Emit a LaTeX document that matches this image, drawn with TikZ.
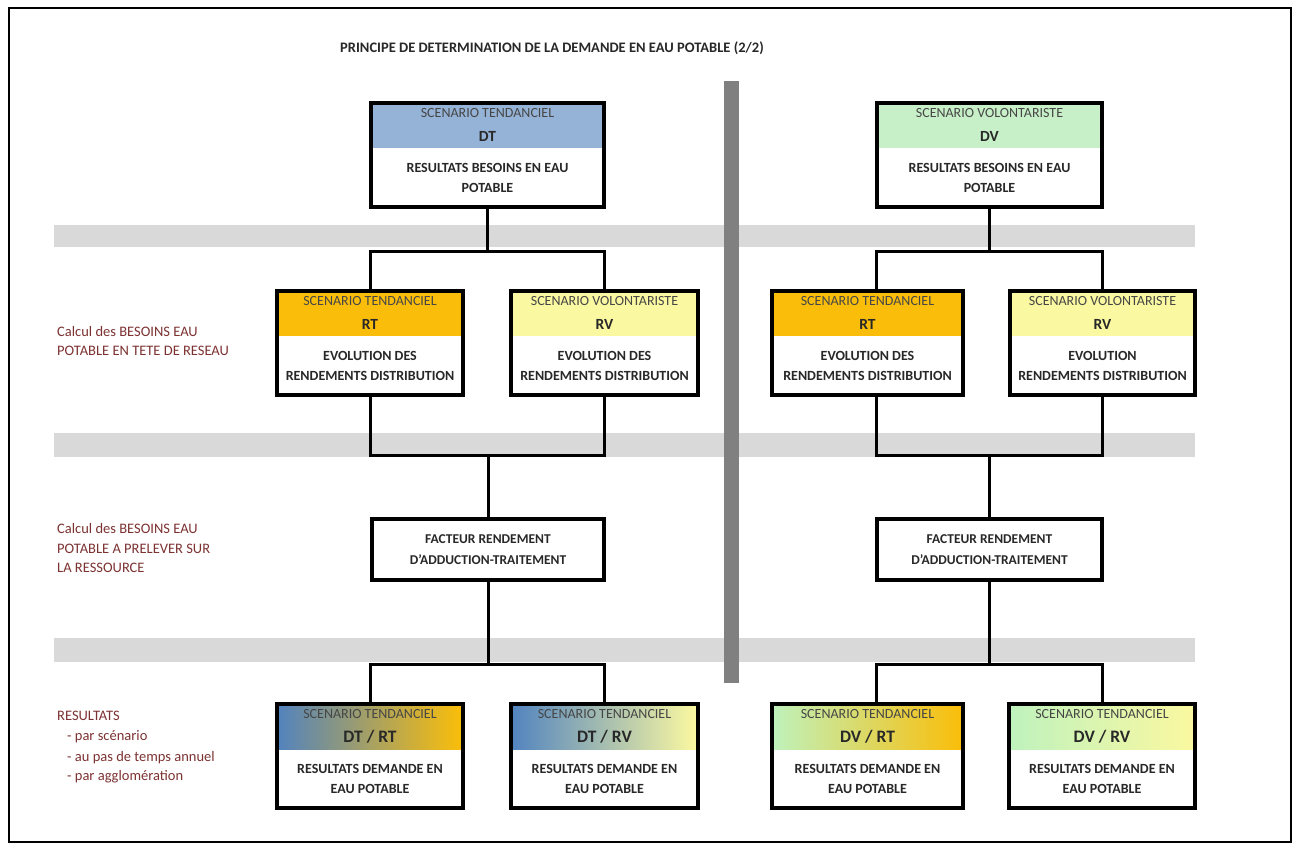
\documentclass[tikz,border=0pt]{standalone}
\usepackage{fontspec}
\setmainfont{Carlito}
\usetikzlibrary{calc}
\definecolor{bandgray}{RGB}{217,217,217}
\definecolor{bargray}{RGB}{128,128,128}
\definecolor{dtblue}{RGB}{149,179,215}
\definecolor{dvgreen}{RGB}{200,240,200}
\definecolor{rtorange}{RGB}{250,190,10}
\definecolor{rvyellow}{RGB}{250,248,160}
\definecolor{gblue}{RGB}{80,130,192}
\definecolor{ggreen}{RGB}{190,242,190}
\definecolor{labelred}{RGB}{125,50,50}
\definecolor{txtgray}{RGB}{40,40,40}
\definecolor{hdrgray}{RGB}{70,70,70}

\newcommand{\diagbox}[8]{%
  \pgfmathsetmacro{\dbw}{#4-#2-4}%
  \pgfmathsetmacro{\dbx}{#2+2}%
  \pgfmathsetmacro{\dby}{#3+2}%
  \node[hdrfill, #5, minimum width=\dbw pt, anchor=north west] (#1h) at (\dbx,\dby) {};
  \node[boxframe, minimum width=\dbw pt, anchor=north west] (#1) at (\dbx,\dby) {};
  \node[hdrtxt] (#1a) at ($(#1.north)+(0,12)$) {#6};
  \node[keytxt] (#1b) at ($(#1.north)+(0,35)$) {#7};
  \node[bodytxt] (#1c) at ($(#1.north)+(0,77)$) {#8};
}

\begin{document}
\begin{tikzpicture}[x=1pt,y=-1pt,
  hdrfill/.style={inner sep=0pt, minimum height=47pt, draw=none},
  boxframe/.style={draw=black, line width=4pt, inner sep=0pt, minimum height=104pt},
  plainbox/.style={draw=black, line width=4pt, inner sep=0pt, fill=white},
  hdrtxt/.style={inner sep=0pt, text=hdrgray, font=\fontsize{14}{16}\selectfont},
  keytxt/.style={inner sep=0pt, text=txtgray, font=\bfseries\fontsize{15.5}{18}\selectfont},
  bodytxt/.style={inner sep=0pt, align=center, text=txtgray, font=\bfseries\fontsize{14}{20}\selectfont},
  sidetxt/.style={inner sep=0pt, anchor=west, text=labelred, font=\fontsize{14.5}{16}\selectfont},
  conn/.style={draw=black, line width=3pt},
  titletxt/.style={inner sep=0pt, anchor=west, text=txtgray, font=\bfseries\fontsize{14.5}{17}\selectfont}
]
\useasboundingbox (0,0) rectangle (1297,848);
\fill[white] (0,0) rectangle (1297,848);
\draw[line width=2pt] (9,8) rectangle (1291,842);

% title
\node[titletxt] (title) at (340,48) {PRINCIPE DE DETERMINATION DE LA DEMANDE EN EAU POTABLE (2/2)};

% grey bands and separator bar
\fill[bandgray] (54,225) rectangle (1195,247);
\fill[bandgray] (54,433) rectangle (1195,457);
\fill[bandgray] (54,638) rectangle (1195,662);
\fill[bargray] (724,81) rectangle (739,683);

% side labels
\node[sidetxt] (l1a) at (57,332) {Calcul des BESOINS EAU};
\node[sidetxt] (l1b) at (57,351) {POTABLE EN TETE DE RESEAU};
\node[sidetxt] (l2a) at (57,529) {Calcul des BESOINS EAU};
\node[sidetxt] (l2b) at (57,549) {POTABLE A PRELEVER SUR};
\node[sidetxt] (l2c) at (57,568) {LA RESSOURCE};
\node[sidetxt] (l3a) at (57,716) {RESULTATS};
\node[sidetxt] (l3b) at (67,737) {- par scénario};
\node[sidetxt] (l3c) at (67,758) {- au pas de temps annuel};
\node[sidetxt] (l3d) at (67,777) {- par agglomération};

% top boxes
\diagbox{dt}{367}{99}{604}{fill=dtblue}{SCENARIO TENDANCIEL}{DT}{RESULTATS BESOINS EN EAU\\POTABLE}
\diagbox{dv}{873}{99}{1102}{fill=dvgreen}{SCENARIO VOLONTARISTE}{DV}{RESULTATS BESOINS EN EAU\\POTABLE}

% level 2 boxes
\diagbox{rtl}{273}{287}{463}{fill=rtorange}{SCENARIO TENDANCIEL}{RT}{EVOLUTION DES\\RENDEMENTS DISTRIBUTION}
\diagbox{rvl}{507}{287}{698}{fill=rvyellow}{SCENARIO VOLONTARISTE}{RV}{EVOLUTION DES\\RENDEMENTS DISTRIBUTION}
\diagbox{rtr}{768}{287}{963}{fill=rtorange}{SCENARIO TENDANCIEL}{RT}{EVOLUTION DES\\RENDEMENTS DISTRIBUTION}
\diagbox{rvr}{1006}{287}{1195}{fill=rvyellow}{SCENARIO VOLONTARISTE}{RV}{EVOLUTION\\RENDEMENTS DISTRIBUTION}

% facteur boxes
\node[plainbox, minimum width=232pt, minimum height=61pt, anchor=north west] (fl) at (370,517) {};
\node[bodytxt, font=\bfseries\fontsize{13.5}{21}\selectfont] (flt) at (fl.center) {FACTEUR RENDEMENT\\D'ADDUCTION-TRAITEMENT};
\node[plainbox, minimum width=225pt, minimum height=61pt, anchor=north west] (fr) at (875,517) {};
\node[bodytxt, font=\bfseries\fontsize{13.5}{21}\selectfont] (frt) at (fr.center) {FACTEUR RENDEMENT\\D'ADDUCTION-TRAITEMENT};

% bottom boxes
\diagbox{dtrt}{273}{700}{463}{left color=gblue, right color=rtorange}{SCENARIO TENDANCIEL}{\fontsize{17.5}{20}\selectfont DT / RT}{RESULTATS DEMANDE EN\\EAU POTABLE}
\diagbox{dtrv}{507}{700}{698}{left color=gblue, right color=rvyellow}{SCENARIO TENDANCIEL}{\fontsize{17.5}{20}\selectfont DT / RV}{RESULTATS DEMANDE EN\\EAU POTABLE}
\diagbox{dvrt}{768}{700}{963}{left color=ggreen, right color=rtorange}{SCENARIO TENDANCIEL}{\fontsize{17.5}{20}\selectfont DV / RT}{RESULTATS DEMANDE EN\\EAU POTABLE}
\diagbox{dvrv}{1005}{700}{1195}{left color=ggreen, right color=rvyellow}{SCENARIO TENDANCIEL}{\fontsize{17.5}{20}\selectfont DV / RV}{RESULTATS DEMANDE EN\\EAU POTABLE}

% connectors, left tree
\path (dt.south) ++(0,42) coordinate (jl1);
\draw[conn] (dt.south) -- (jl1);
\draw[conn] (jl1) -| (rtl.north);
\draw[conn] (jl1) -| (rvl.north);
\path (fl.north) ++(0,-62) coordinate (jl2);
\draw[conn] (rtl.south) |- (jl2) -| (rvl.south);
\draw[conn] (jl2) -- (fl.north);
\path (fl.south) ++(0,82) coordinate (jl3);
\draw[conn] (fl.south) -- (jl3);
\draw[conn] (jl3) -| (dtrt.north);
\draw[conn] (jl3) -| (dtrv.north);

% connectors, right tree
\path (dv.south) ++(0,42) coordinate (jr1);
\draw[conn] (dv.south) -- (jr1);
\draw[conn] (jr1) -| ([xshift=9pt]rtr.north);
\draw[conn] (jr1) -| (rvr.north);
\path (fr.north) ++(0,-62) coordinate (jr2);
\draw[conn] ([xshift=9pt]rtr.south) |- (jr2) -| (rvr.south);
\draw[conn] (jr2) -- (fr.north);
\path (fr.south) ++(0,82) coordinate (jr3);
\draw[conn] (fr.south) -- (jr3);
\draw[conn] (jr3) -| ([xshift=9pt]dvrt.north);
\draw[conn] (jr3) -| (dvrv.north);
\end{tikzpicture}
\end{document}
